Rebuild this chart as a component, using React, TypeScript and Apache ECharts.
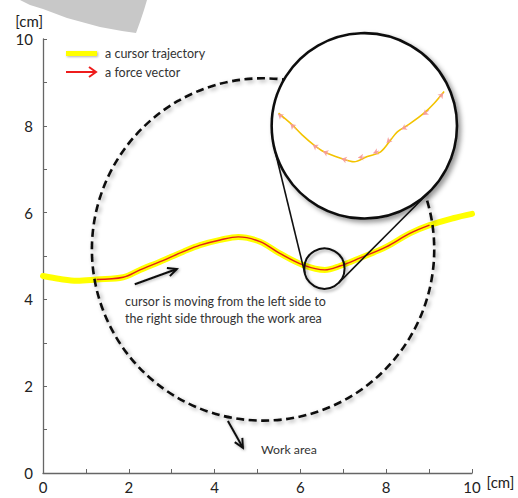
import React, { useEffect, useRef } from 'react';
import * as echarts from 'echarts';

// ---- data (cm) ----
const xTicks = [0, 1, 2, 3, 4, 5, 6, 7, 8, 9, 10];
const xTickLabels = ['0', '', '2', '', '4', '', '6', '', '8', '', '10'];
const yTickLabels = ['0', '', '2', '', '4', '', '6', '', '8', '', '10'];

const trajX = [0, 0.4, 0.79, 1.25, 1.87, 2.26, 2.73, 3.27, 3.66, 4.13, 4.55, 5.06, 5.52, 6.07, 6.57, 6.92, 7.38, 8.0, 8.55, 9.01, 9.56, 10.0];
const trajY = [4.54, 4.47, 4.43, 4.46, 4.51, 4.68, 4.87, 5.10, 5.25, 5.37, 5.44, 5.33, 5.06, 4.79, 4.68, 4.77, 4.95, 5.21, 5.52, 5.71, 5.87, 5.97];
const forceFrom = 3;
const forceTo = 19;

// magnified view drawn inside the big circle
const zoomX = [5.49, 5.81, 6.04, 6.31, 6.55, 6.94, 7.25, 7.56, 7.87, 8.10, 8.26, 8.57, 8.88, 9.12, 9.35];
const zoomY = [8.29, 8.02, 7.79, 7.56, 7.40, 7.25, 7.17, 7.29, 7.40, 7.67, 7.86, 8.06, 8.29, 8.52, 8.79];

// small force arrows in the magnified view
const arrowTailX = [5.62, 5.90, 6.43, 6.67, 7.11, 7.50, 7.83, 8.11, 8.51, 9.00, 9.23];
const arrowTailY = [8.16, 7.92, 7.47, 7.35, 7.20, 7.28, 7.42, 7.70, 8.00, 8.36, 8.64];
const arrowHeadX = [5.48, 5.77, 6.29, 6.53, 6.96, 7.35, 7.70, 8.01, 8.36, 8.86, 9.33];
const arrowHeadY = [8.27, 8.04, 7.56, 7.41, 7.24, 7.27, 7.37, 7.61, 7.92, 8.25, 8.75];

// circles [cx, cy, r]
const workArea = [5.13, 5.15, 3.99];
const magnifier = [7.49, 8.0, 2.16];
const focus = [6.56, 4.71, 0.47];

// annotation arrows [x1, y1, x2, y2]
const noteArrows = [
  [2.14, 4.35, 3.12, 4.70],
  [4.31, 1.20, 4.66, 0.58],
];

// annotation texts
const noteTexts = ['cursor is moving from the left side to', 'the right side through the work area', 'Work area'];
const noteTextX = [1.91, 1.91, 5.08];
const noteTextY = [3.96, 3.57, 0.53];

const legendNames = ['a cursor trajectory', 'a force vector'];

const FONT = 'Lato';

export default function App() {
  const ref = useRef<HTMLDivElement>(null);
  useEffect(() => {
    if (!ref.current) return;
    const chart = echarts.init(ref.current, undefined, { renderer: 'svg' });
    const shadow = { shadowBlur: 4, shadowColor: 'rgba(0,0,0,0.35)', shadowOffsetX: 2, shadowOffsetY: 2 };

    const circleItem = (api: any, stroke: any) => {
      const c = api.coord([api.value(0), api.value(1)]);
      const r = api.size([api.value(2), 0])[0];
      return { type: 'circle', shape: { cx: c[0], cy: c[1], r }, style: stroke };
    };

    const option: any = {
      animation: false,
      backgroundColor: '#ffffff',
      grid: { left: 43, right: 46, top: 39, bottom: 25, containLabel: false },
      xAxis: {
        type: 'value', min: 0, max: 10, interval: 1,
        name: '[cm]', nameLocation: 'end', nameGap: 12,
        nameTextStyle: { color: '#222', fontSize: 15, fontFamily: FONT, align: 'left', verticalAlign: 'top', padding: [1, 0, 0, 0] },
        axisLine: { show: true, lineStyle: { color: '#666', width: 1.3 } },
        axisTick: { show: true, inside: true, length: 4, lineStyle: { color: '#666' } },
        axisLabel: { color: '#222', fontSize: 15, fontFamily: FONT, margin: 6, formatter: (v: number) => xTickLabels[xTicks.indexOf(v)] ?? '' },
        splitLine: { show: false },
      },
      yAxis: {
        type: 'value', min: 0, max: 10, interval: 1,
        name: '[cm]', nameLocation: 'end', nameGap: 11,
        nameTextStyle: { color: '#222', fontSize: 15, fontFamily: FONT, align: 'right', verticalAlign: 'bottom', padding: [0, 0, 0, 0] },
        axisLine: { show: true, lineStyle: { color: '#666', width: 1.3 } },
        axisTick: { show: true, inside: true, length: 4, lineStyle: { color: '#666' } },
        axisLabel: { color: '#222', fontSize: 15, fontFamily: FONT, margin: 10, formatter: (v: number) => yTickLabels[xTicks.indexOf(v)] ?? '' },
        splitLine: { show: false },
      },
      graphic: [
        {
          type: 'polygon', z: 0,
          shape: { points: [[20, 0], [30, 5], [43, 9], [67, 18], [100, 27], [122, 31], [136, 33], [140, 22], [144, 10], [147, 0]] },
          style: { fill: '#c8c8c8' },
        },
        { type: 'rect', shape: { x: 66, y: 51, width: 31, height: 5 }, style: { fill: '#ffff00', shadowBlur: 2, shadowColor: 'rgba(0,0,0,0.3)', shadowOffsetX: 1, shadowOffsetY: 1 } },
        { type: 'text', x: 105, y: 53, style: { text: legendNames[0], fill: '#333', fontSize: 12.5, fontFamily: FONT, verticalAlign: 'middle', align: 'left' } },
        { type: 'line', shape: { x1: 66, y1: 72, x2: 96, y2: 72 }, style: { stroke: '#ee1c1c', lineWidth: 2 } },
        { type: 'polyline', shape: { points: [[89, 67], [96, 72], [89, 77]] }, style: { stroke: '#ee1c1c', lineWidth: 2, fill: 'none' } },
        { type: 'text', x: 105, y: 72, style: { text: legendNames[1], fill: '#333', fontSize: 12.5, fontFamily: FONT, verticalAlign: 'middle', align: 'left' } },
      ],
      series: [
        {
          name: legendNames[0], type: 'line', z: 2, smooth: 0.35, symbol: 'none',
          data: trajX.map((x, i) => [x, trajY[i]]),
          lineStyle: { color: '#ffff00', width: 6, cap: 'round' },
        },
        {
          name: legendNames[1], type: 'line', z: 3, smooth: 0.35, symbol: 'none',
          data: trajX.slice(forceFrom, forceTo + 1).map((x, i) => [x, trajY[i + forceFrom]]),
          lineStyle: { color: '#e3201b', width: 1.4 },
        },
        {
          type: 'custom', z: 4, silent: true, clip: false,
          data: [workArea],
          renderItem: (_p: any, api: any) => circleItem(api, { fill: 'none', stroke: '#111', lineWidth: 2.6, lineDash: [8, 4.5], ...shadow }),
        },
        {
          type: 'custom', z: 5, silent: true, clip: false,
          data: [focus],
          renderItem: (_p: any, api: any) => circleItem(api, { fill: 'none', stroke: '#111', lineWidth: 2, ...shadow, shadowBlur: 3 }),
        },
        {
          type: 'custom', z: 5, silent: true, clip: false,
          data: [[magnifier[0], magnifier[1], magnifier[2], focus[0], focus[1], focus[2]]],
          encode: { x: [0, 3], y: [1, 4] },
          renderItem: (_p: any, api: any) => {
            const c1 = api.coord([api.value(0), api.value(1)]);
            const r1 = api.size([api.value(2), 0])[0];
            const c2 = api.coord([api.value(3), api.value(4)]);
            const r2 = api.size([api.value(5), 0])[0];
            const dx = c2[0] - c1[0], dy = c2[1] - c1[1];
            const d = Math.hypot(dx, dy);
            const vx = dx / d, vy = dy / d;
            const cos = (r1 - r2) / d;
            const sin = Math.sqrt(Math.max(0, 1 - cos * cos));
            const lines = [1, -1].map((s) => {
              const nx = vx * cos - s * vy * sin;
              const ny = vy * cos + s * vx * sin;
              return {
                type: 'line',
                shape: { x1: c1[0] + r1 * nx, y1: c1[1] + r1 * ny, x2: c2[0] + r2 * nx, y2: c2[1] + r2 * ny },
                style: { stroke: '#111', lineWidth: 1.6 },
              };
            });
            return { type: 'group', children: lines };
          },
        },
        {
          type: 'custom', z: 6, silent: true, clip: false,
          data: [magnifier],
          renderItem: (_p: any, api: any) => circleItem(api, { fill: '#ffffff', stroke: '#111', lineWidth: 2.6, shadowBlur: 5, shadowColor: 'rgba(0,0,0,0.4)', shadowOffsetX: 3, shadowOffsetY: 3 }),
        },
        {
          type: 'line', z: 7, smooth: 0.3, symbol: 'none', silent: true,
          data: zoomX.map((x, i) => [x, zoomY[i]]),
          lineStyle: { color: '#f3c300', width: 1.6 },
        },
        {
          type: 'lines', coordinateSystem: 'cartesian2d', z: 8, silent: true,
          symbol: ['none', 'arrow'], symbolSize: 5,
          lineStyle: { color: '#f59a9a', width: 1, opacity: 0.9 },
          data: arrowTailX.map((x, i) => ({ coords: [[x, arrowTailY[i]], [arrowHeadX[i], arrowHeadY[i]]] })),
        },
        {
          type: 'custom', z: 9, silent: true, clip: false,
          data: noteArrows,
          encode: { x: [0, 2], y: [1, 3] },
          renderItem: (_p: any, api: any) => {
            const a = api.coord([api.value(0), api.value(1)]);
            const b = api.coord([api.value(2), api.value(3)]);
            const ang = Math.atan2(b[1] - a[1], b[0] - a[0]);
            const L = 10, w = 0.45;
            const p1 = [b[0] - L * Math.cos(ang - w), b[1] - L * Math.sin(ang - w)];
            const p2 = [b[0] - L * Math.cos(ang + w), b[1] - L * Math.sin(ang + w)];
            const st = { stroke: '#111', lineWidth: 2, fill: 'none', shadowBlur: 3, shadowColor: 'rgba(0,0,0,0.3)', shadowOffsetX: 1, shadowOffsetY: 1 };
            return {
              type: 'group',
              children: [
                { type: 'line', shape: { x1: a[0], y1: a[1], x2: b[0], y2: b[1] }, style: st },
                { type: 'polyline', shape: { points: [p1, b, p2] }, style: st },
              ],
            };
          },
        },
        {
          type: 'custom', z: 9, silent: true, clip: false,
          data: noteTextX.map((x, i) => [x, noteTextY[i], i]),
          renderItem: (_p: any, api: any) => {
            const c = api.coord([api.value(0), api.value(1)]);
            return {
              type: 'text', x: c[0], y: c[1],
              style: { text: noteTexts[api.value(2)], fill: '#333', fontSize: api.value(2) === 2 ? 12.3 : 12.5, fontFamily: FONT, align: 'left', verticalAlign: 'middle' },
            };
          },
        },
      ],
    };
    chart.setOption(option);
    return () => chart.dispose();
  }, []);
  return <div ref={ref} style={{ position: 'fixed', left: 0, top: 0, width: 518, height: 498 }} />;
}
